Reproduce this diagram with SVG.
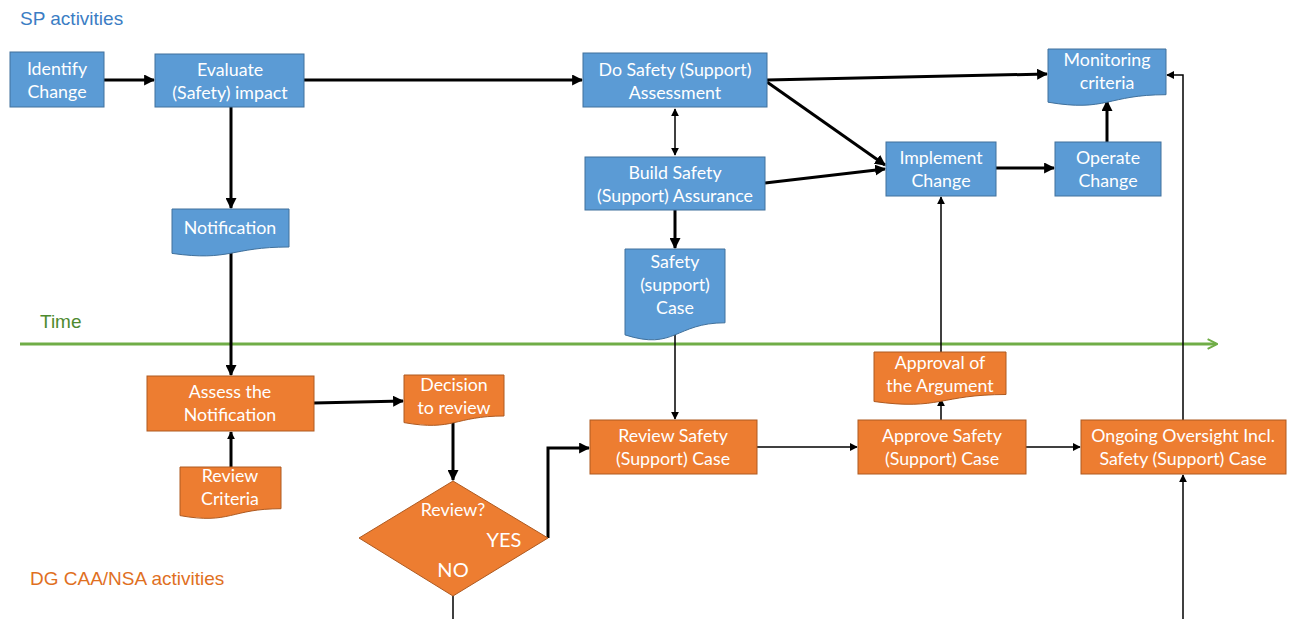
<svg xmlns="http://www.w3.org/2000/svg" width="1293" height="619" viewBox="0 0 1293 619">
<style>
.b{fill:#5B9BD5;stroke:#41719C;stroke-width:1}
.o{fill:#ED7D31;stroke:#AE5A21;stroke-width:1}
.t{font-family:Lato,"Liberation Sans",sans-serif;font-size:17.8px;fill:#fff;text-anchor:middle;dominant-baseline:central}
.c{fill:none;stroke:#000}
.k{stroke-width:3}
.n{stroke-width:1.5}
.lab{font-family:"Liberation Sans",Arial,sans-serif;font-size:19px}
</style>
<defs>
<marker id="ak" viewBox="0 0 10 10" refX="9" refY="5" markerWidth="11" markerHeight="11" markerUnits="userSpaceOnUse" orient="auto"><path d="M0,0 L10,5 L0,10 Z" fill="#000"/></marker>
<marker id="an" viewBox="0 0 10 10" refX="9" refY="5" markerWidth="8" markerHeight="8" markerUnits="userSpaceOnUse" orient="auto-start-reverse"><path d="M0,0 L10,5 L0,10 Z" fill="#000"/></marker>
<marker id="ag" viewBox="0 0 10 10" refX="8" refY="5" markerWidth="12" markerHeight="12" markerUnits="userSpaceOnUse" orient="auto"><path d="M1,1 L9,5 L1,9" fill="none" stroke="#70AD47" stroke-width="1.6"/></marker>
</defs>
<rect width="1293" height="619" fill="#fff"/>
<text class="lab" x="20" y="25" fill="#3B7DC4">SP activities</text>
<text class="lab" x="30" y="585" fill="#E0701F">DG CAA/NSA activities</text>
<text class="lab" x="40" y="328" fill="#4E8A2E">Time</text>
<g id="timeline"><line x1="20" y1="344" x2="1216" y2="344" stroke="#70AD47" stroke-width="3" marker-end="url(#ag)"/></g>
<g id="connectors">
<line class="c k" x1="104" y1="80" x2="154" y2="80" marker-end="url(#ak)"/>
<line class="c k" x1="304" y1="80" x2="582" y2="80" marker-end="url(#ak)"/>
<line class="c k" x1="231" y1="107" x2="231" y2="208" marker-end="url(#ak)"/>
<line class="c k" x1="231" y1="252" x2="231" y2="375" marker-end="url(#ak)"/>
<line class="c n" x1="675" y1="109" x2="675" y2="155" marker-start="url(#an)" marker-end="url(#an)"/>
<line class="c k" x1="675" y1="210" x2="675" y2="248" marker-end="url(#ak)"/>
<line class="c n" x1="675" y1="332" x2="675" y2="419" marker-end="url(#an)"/>
<line class="c k" x1="767" y1="80" x2="1047" y2="74" marker-end="url(#ak)"/>
<line class="c k" x1="767" y1="82" x2="885" y2="165" marker-end="url(#ak)"/>
<line class="c k" x1="765" y1="183" x2="885" y2="169" marker-end="url(#ak)"/>
<line class="c k" x1="996" y1="168" x2="1054" y2="168" marker-end="url(#ak)"/>
<line class="c k" x1="1107" y1="142" x2="1107" y2="101" marker-end="url(#ak)"/>
<polyline class="c n" points="1183,420 1183,75 1167,75" marker-end="url(#an)"/>
<line class="c n" x1="1183" y1="619" x2="1183" y2="475" marker-end="url(#an)"/>
<line class="c k" x1="314" y1="403" x2="403" y2="401" marker-end="url(#ak)"/>
<line class="c k" x1="231" y1="467" x2="231" y2="432" marker-end="url(#an)"/>
<line class="c k" x1="453" y1="419" x2="453" y2="480" marker-end="url(#ak)"/>
<polyline class="c k" points="548,538 548,448 589,448" marker-end="url(#ak)"/>
<line class="c n" x1="453" y1="596" x2="453" y2="619"/>
<line class="c n" x1="757" y1="447" x2="857" y2="447" marker-end="url(#an)"/>
<line class="c n" x1="1026" y1="447" x2="1080" y2="447" marker-end="url(#an)"/>
<line class="c n" x1="941" y1="420" x2="941" y2="399" marker-end="url(#an)"/>
<line class="c n" x1="941" y1="352" x2="941" y2="197" marker-end="url(#an)"/>
</g>
<g id="identify"><rect class="b" x="10" y="52" width="94" height="55"/><text class="t" x="57" y="68">Identify</text><text class="t" x="57" y="91">Change</text></g>
<g id="evaluate"><rect class="b" x="155" y="54" width="149" height="53"/><text class="t" x="230" y="69">Evaluate</text><text class="t" x="230" y="92">(Safety) impact</text></g>
<g id="notification"><path class="b" d="M172,209 H289 V247 C230.5,247 230.5,261.6 172,253.4 Z"/><text class="t" x="230" y="227">Notification</text></g>
<g id="dosafety"><rect class="b" x="583" y="53" width="184" height="54"/><text class="t" x="675" y="69">Do Safety (Support)</text><text class="t" x="675" y="92">Assessment</text></g>
<g id="build"><rect class="b" x="585" y="157" width="180" height="53"/><text class="t" x="675" y="172">Build Safety</text><text class="t" x="675" y="195">(Support) Assurance</text></g>
<g id="safetycase"><path class="b" d="M625,249 H725 V322.8 C675,322.8 675,350.9 625,334.9 Z"/><text class="t" x="675" y="261">Safety</text><text class="t" x="675" y="284">(support)</text><text class="t" x="675" y="307">Case</text></g>
<g id="monitoring"><path class="b" d="M1048,49 H1166 V94.7 C1107,94.7 1107,112.2 1048,102.2 Z"/><text class="t" x="1107" y="59">Monitoring</text><text class="t" x="1107" y="82">criteria</text></g>
<g id="implement"><rect class="b" x="886" y="142" width="110" height="54"/><text class="t" x="941" y="157">Implement</text><text class="t" x="941" y="180">Change</text></g>
<g id="operate"><rect class="b" x="1055" y="142" width="106" height="54"/><text class="t" x="1108" y="157">Operate</text><text class="t" x="1108" y="180">Change</text></g>
<g id="assess"><rect class="o" x="147" y="376" width="167" height="55"/><text class="t" x="230" y="391">Assess the</text><text class="t" x="230" y="414">Notification</text></g>
<g id="decision"><path class="o" d="M404,375 H504 V416 C454,416 454,431.5 404,422.6 Z"/><text class="t" x="454" y="384">Decision</text><text class="t" x="454" y="407">to review</text></g>
<g id="criteria"><path class="o" d="M180,467 H281 V508.7 C230.5,508.7 230.5,524.6 180,515.6 Z"/><text class="t" x="230" y="475">Review</text><text class="t" x="230" y="498">Criteria</text></g>
<g id="review"><path class="o" d="M453,481 L548,538 L453,596 L359,538 Z" stroke="#41719C"/><text class="t" x="453" y="509">Review?</text><text class="t" x="504" y="539" style="font-size:20px">YES</text><text class="t" x="453" y="569" style="font-size:20px">NO</text></g>
<g id="reviewcase"><rect class="o" x="590" y="420" width="167" height="54"/><text class="t" x="673" y="435">Review Safety</text><text class="t" x="673" y="458">(Support) Case</text></g>
<g id="approval"><path class="o" d="M874,352 H1006 V394.5 C940,394.5 940,410.6 874,401.5 Z"/><text class="t" x="940" y="362">Approval of</text><text class="t" x="940" y="385">the Argument</text></g>
<g id="approve"><rect class="o" x="858" y="420" width="168" height="54"/><text class="t" x="942" y="435">Approve Safety</text><text class="t" x="942" y="458">(Support) Case</text></g>
<g id="oversight"><rect class="o" x="1081" y="420" width="205" height="54"/><text class="t" x="1183" y="435">Ongoing Oversight Incl.</text><text class="t" x="1183" y="458">Safety (Support) Case</text></g>
</svg>
